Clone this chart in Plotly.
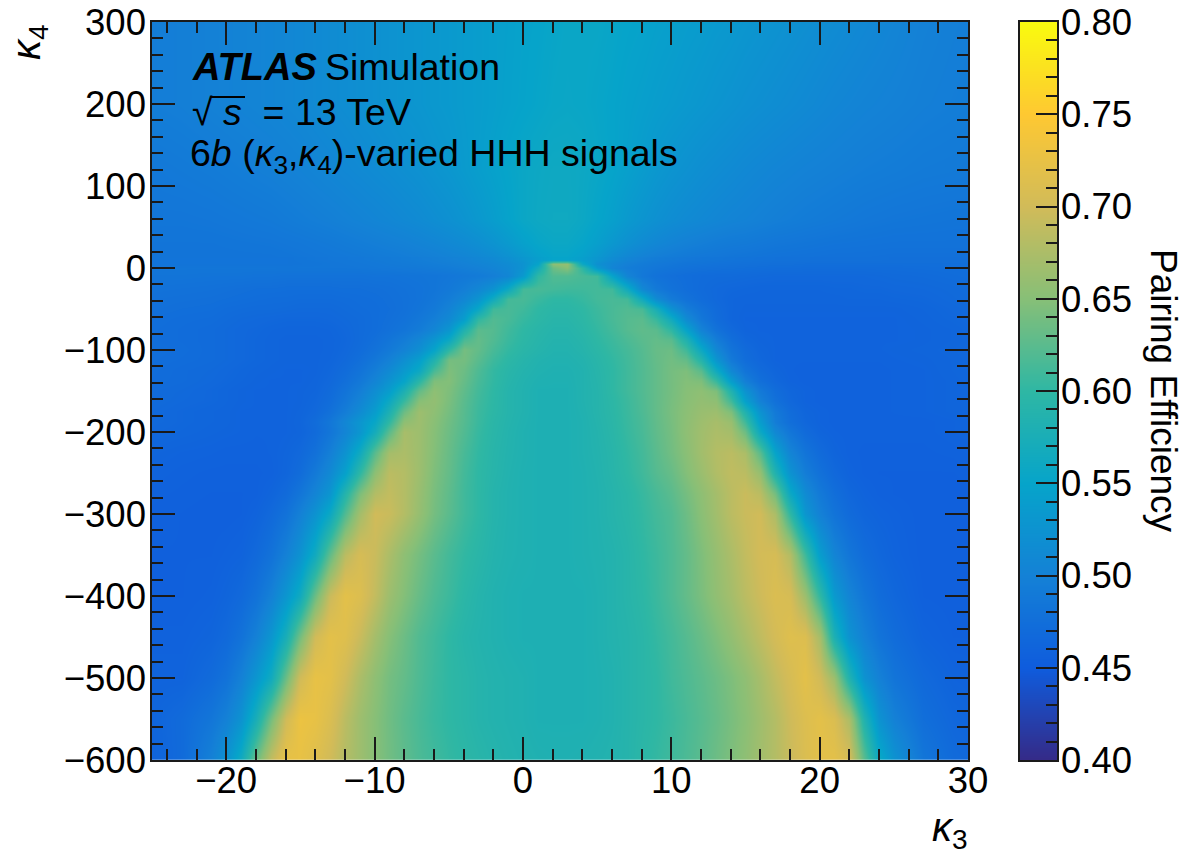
import plotly.graph_objects as go

FONT = "Liberation Sans"

# Upper region (no sharp structure): kappa3 / kappa4 sampling and efficiencies
sky_kappa3 = [-25,-23,-21,-19,-17,-15,-13,-11,-9,
              -8,-7,-6,-5,-4,-3,-2,-1,0,1,2,3,4,5,6,7,8,9,10,11,12,13,14,15,
              17,19,21,23,25,27,29,31]
sky_kappa4 = [300,200,120,60,30,10]
sky_efficiency = [
[.495,.497,.500,.503,.506,.510,.515,.520,.525, .528,.530,.533,.535,.538,.540,.543,.545,.548,.550,.553,.555,.555,.555,.553,.550,.548,.545,.543,.540,.538,.535,.533,.530, .525,.520,.515,.510,.505,.500,.497,.495],
[.495,.497,.500,.503,.506,.510,.515,.520,.525, .528,.530,.533,.535,.538,.540,.543,.546,.549,.552,.555,.556,.555,.553,.550,.546,.543,.540,.537,.534,.531,.528,.525,.522, .517,.512,.507,.503,.500,.497,.495,.493],
[.488,.490,.492,.495,.498,.502,.507,.512,.517, .520,.523,.527,.531,.536,.541,.546,.551,.556,.559,.561,.561,.559,.555,.550,.544,.538,.532,.527,.523,.519,.516,.513,.510, .505,.501,.498,.495,.493,.491,.490,.488],
[.485,.485,.486,.488,.490,.494,.498,.503,.508, .511,.514,.518,.522,.527,.533,.540,.548,.556,.560,.562,.562,.558,.551,.544,.535,.528,.522,.517,.513,.510,.507,.504,.502, .497,.493,.490,.487,.485,.484,.483,.483],
[.483,.483,.483,.484,.485,.487,.490,.494,.498, .500,.503,.506,.510,.514,.519,.526,.535,.545,.553,.557,.557,.552,.543,.532,.522,.514,.508,.503,.499,.496,.493,.491,.490, .486,.484,.482,.481,.480,.480,.480,.480],
[.482,.482,.482,.482,.482,.484,.486,.488,.491, .493,.495,.497,.500,.503,.507,.512,.520,.530,.542,.550,.550,.543,.530,.515,.505,.498,.493,.490,.487,.485,.484,.482,.481, .479,.478,.477,.477,.476,.476,.476,.476],
]

# Lower region (parabola): finer sampling
arch_kappa3 = [-25,-23,-21,
               -20,-19,-18,-17,-16,-15,-14,-13,-12,-11,
               -10,-9,-8,-7,-6,-5,-4,-3,-2,-1,
               0,1,2,3,4,5,6,7,8,9,
               10,11,12,13,14,15,16,17,18,19,
               20,21,22,23,24,25,
               27,29,31]
arch_kappa4 = [10,5,0,-10,-25,-37,-50,-62,-75,-87,-100,-112,-125,-137,-150,-162,-175,-187,-200,-225,-250,-275,-300,-350,-400,-450,-500,-550,-600]
arch_efficiency = [
[.482,.482,.482, .482,.482,.482,.482,.482,.484,.485,.486,.487,.488, .490,.491,.493,.495,.497,.500,.503,.507,.512,.520, .530,.542,.550,.550,.543,.530,.515,.505,.498,.493, .490,.487,.485,.484,.482,.481,.480,.479,.479,.478, .477,.477,.477,.477,.477,.476, .476,.476,.476],
[.482,.482,.482, .482,.482,.482,.482,.482,.483,.484,.485,.486,.487, .488,.490,.491,.493,.495,.497,.500,.504,.508,.515, .525,.550,.655,.660,.560,.522,.508,.499,.493,.489, .486,.483,.482,.480,.479,.478,.477,.476,.476,.475, .475,.475,.475,.475,.475,.475, .475,.475,.475],
[.485,.485,.485, .485,.485,.485,.485,.485,.485,.485,.485,.485,.486, .487,.488,.489,.490,.492,.494,.497,.500,.505,.512, .525,.570,.635,.650,.600,.535,.505,.495,.490,.486, .483,.480,.478,.477,.476,.475,.474,.473,.473,.472, .472,.472,.472,.472,.472,.472, .473,.474,.475],
[.483,.483,.482, .482,.482,.481,.481,.480,.480,.480,.480,.480,.480, .481,.481,.482,.483,.484,.486,.489,.492,.497,.507, .535,.600,.620,.620,.615,.610,.550,.505,.488,.480, .476,.473,.471,.470,.470,.469,.468,.467,.467,.467, .467,.467,.467,.467,.468,.469, .470,.472,.474],
[.480,.479,.478, .477,.476,.475,.475,.474,.474,.474,.474,.475,.475, .476,.477,.479,.481,.484,.489,.497,.508,.525,.560, .612,.615,.612,.610,.610,.612,.610,.565,.510,.490, .480,.474,.470,.467,.465,.464,.463,.463,.463,.463, .463,.464,.464,.465,.465,.466, .467,.469,.472],
[.478,.477,.476, .475,.474,.473,.472,.472,.471,.471,.471,.472,.473, .474,.476,.478,.481,.486,.495,.508,.527,.565,.612, .615,.607,.600,.600,.605,.612,.615,.612,.565,.515, .492,.480,.472,.467,.463,.462,.462,.462,.462,.462, .462,.462,.463,.463,.463,.464, .465,.468,.471],
[.477,.475,.474, .472,.471,.470,.470,.469,.468,.468,.468,.470,.472, .473,.475,.478,.483,.490,.503,.525,.555,.610,.615, .610,.600,.596,.596,.600,.608,.615,.620,.615,.575, .525,.495,.480,.470,.463,.461,.461,.461,.461,.461, .461,.461,.461,.461,.461,.461, .463,.466,.470],
[.475,.473,.472, .470,.468,.467,.466,.465,.465,.465,.466,.468,.470, .473,.476,.480,.487,.497,.512,.540,.600,.620,.615, .605,.598,.593,.593,.598,.606,.615,.622,.625,.605, .565,.515,.487,.472,.463,.460,.460,.460,.460,.460, .460,.460,.460,.460,.460,.460, .462,.465,.468],
[.474,.472,.470, .468,.466,.465,.463,.462,.462,.462,.463,.466,.470, .473,.478,.484,.493,.507,.530,.585,.625,.622,.610, .600,.594,.590,.590,.595,.603,.612,.622,.628,.625, .600,.550,.503,.480,.468,.461,.460,.460,.460,.460, .460,.460,.460,.460,.460,.460, .461,.463,.467],
[.474,.472,.470, .468,.466,.464,.462,.461,.461,.461,.462,.465,.470, .476,.484,.494,.508,.530,.560,.615,.630,.620,.607, .598,.592,.588,.588,.592,.600,.608,.617,.625,.630, .625,.585,.530,.495,.475,.465,.461,.460,.460,.460, .460,.460,.460,.460,.460,.460, .461,.463,.467],
[.475,.473,.470, .468,.466,.464,.462,.461,.461,.461,.462,.466,.472, .480,.490,.503,.520,.550,.600,.640,.630,.615,.603, .595,.590,.586,.586,.590,.597,.605,.613,.622,.632, .635,.610,.560,.510,.482,.470,.463,.460,.460,.460, .460,.460,.460,.460,.460,.461, .462,.464,.468],
[.474,.472,.470, .468,.466,.464,.462,.461,.461,.461,.463,.468,.476, .487,.500,.520,.542,.585,.640,.640,.625,.609,.598, .591,.586,.584,.584,.587,.594,.602,.611,.621,.631, .638,.630,.590,.530,.490,.473,.465,.460,.459,.459, .459,.459,.459,.459,.459,.460, .461,.463,.467],
[.473,.470,.468, .466,.464,.462,.461,.460,.460,.461,.465,.472,.482, .496,.513,.535,.560,.615,.645,.635,.618,.603,.594, .588,.584,.582,.582,.585,.592,.600,.610,.620,.630, .640,.645,.625,.565,.510,.483,.470,.463,.459,.458, .458,.458,.458,.458,.458,.459, .460,.463,.466],
[.472,.470,.467, .465,.463,.461,.460,.460,.460,.462,.467,.476,.488, .505,.525,.550,.595,.645,.648,.632,.615,.602,.592, .586,.582,.581,.581,.585,.591,.600,.610,.620,.630, .640,.648,.645,.605,.540,.497,.476,.466,.460,.458, .458,.458,.458,.458,.458,.459, .460,.462,.466],
[.470,.468,.465, .463,.461,.460,.460,.460,.461,.463,.470,.482,.497, .518,.540,.580,.630,.655,.645,.628,.612,.600,.590, .585,.580,.580,.580,.585,.590,.600,.610,.620,.630, .640,.650,.655,.645,.585,.525,.490,.473,.464,.460, .458,.458,.458,.458,.458,.459, .460,.462,.465],
[.470,.467,.465, .463,.461,.460,.460,.460,.461,.465,.473,.487,.505, .528,.560,.605,.650,.658,.643,.625,.610,.599,.590, .585,.580,.580,.580,.585,.590,.598,.608,.619,.630, .641,.651,.658,.655,.610,.545,.500,.478,.466,.460, .458,.458,.458,.458,.458,.459, .460,.462,.466],
[.468,.465,.463, .462,.460,.460,.460,.460,.462,.467,.478,.495,.515, .540,.580,.635,.665,.655,.640,.623,.608,.598,.590, .585,.580,.580,.580,.584,.590,.597,.607,.618,.630, .642,.653,.662,.665,.645,.585,.525,.490,.472,.463, .460,.458,.458,.458,.458,.459, .460,.462,.465],
[.468,.465,.463, .462,.460,.460,.460,.460,.463,.472,.487,.508,.530, .555,.600,.655,.665,.652,.637,.622,.607,.596,.589, .584,.580,.580,.580,.583,.589,.596,.606,.616,.629, .641,.654,.665,.672,.662,.610,.540,.495,.475,.465, .460,.458,.458,.458,.458,.458, .458,.460,.463],
[.466,.464,.462, .461,.460,.459,.459,.460,.462,.470,.485,.505,.530, .570,.625,.672,.665,.650,.635,.620,.605,.595,.588, .583,.580,.580,.580,.583,.588,.595,.605,.615,.628, .640,.655,.667,.675,.670,.635,.560,.510,.485,.470, .462,.459,.458,.458,.458,.458, .458,.460,.463],
[.462,.460,.459, .458,.458,.458,.459,.462,.467,.478,.498,.525,.565, .625,.670,.675,.665,.648,.632,.615,.602,.593,.587, .583,.580,.580,.580,.583,.587,.593,.602,.612,.625, .638,.652,.668,.680,.685,.675,.625,.550,.505,.483, .470,.462,.458,.457,.457,.457, .457,.458,.460],
[.460,.458,.457, .457,.457,.457,.458,.463,.472,.490,.512,.545,.600, .655,.685,.680,.665,.645,.630,.612,.600,.592,.586, .582,.580,.580,.580,.582,.586,.592,.600,.610,.622, .632,.648,.663,.678,.688,.685,.660,.585,.525,.495, .478,.467,.460,.457,.456,.456, .456,.456,.458],
[.458,.457,.456, .456,.456,.457,.462,.470,.485,.505,.530,.590,.645, .680,.690,.680,.662,.642,.627,.610,.600,.590,.585, .582,.580,.580,.580,.582,.585,.590,.596,.605,.615, .625,.640,.655,.670,.685,.695,.685,.640,.560,.515, .490,.475,.465,.460,.457,.456, .455,.455,.456],
[.457,.456,.455, .455,.456,.460,.468,.480,.500,.525,.560,.620,.670, .700,.695,.680,.660,.640,.625,.610,.600,.590,.585, .582,.580,.580,.580,.582,.585,.590,.595,.603,.612, .620,.635,.652,.668,.685,.695,.700,.675,.600,.530, .500,.482,.470,.463,.460,.458, .455,.455,.456],
[.456,.456,.456, .458,.460,.468,.480,.500,.525,.565,.630,.685,.705, .695,.675,.655,.640,.625,.612,.602,.595,.588,.584, .582,.580,.580,.580,.582,.584,.587,.592,.600,.608, .618,.630,.645,.660,.675,.690,.702,.705,.680,.610, .540,.505,.485,.472,.465,.460, .455,.455,.455],
[.456,.456,.458, .462,.468,.480,.500,.530,.565,.635,.695,.720,.712, .690,.665,.648,.632,.618,.608,.597,.590,.585,.582, .580,.580,.580,.580,.580,.583,.587,.592,.598,.607, .618,.630,.643,.657,.670,.685,.698,.710,.705,.665, .600,.535,.505,.485,.472,.465, .456,.455,.455],
[.458,.458,.462, .468,.480,.500,.530,.575,.640,.700,.720,.715,.695, .670,.650,.635,.620,.610,.600,.592,.588,.585,.582, .580,.580,.580,.580,.580,.583,.587,.590,.595,.603, .612,.622,.633,.645,.658,.672,.688,.703,.715,.712, .670,.580,.525,.500,.482,.472, .460,.456,.456],
[.460,.460,.470, .480,.500,.530,.565,.635,.700,.725,.720,.700,.675, .655,.640,.630,.618,.608,.600,.595,.590,.587,.585, .583,.580,.580,.580,.580,.582,.585,.590,.595,.600, .610,.618,.626,.635,.645,.656,.672,.690,.705,.720, .700,.665,.585,.525,.500,.483, .468,.460,.458],
[.462,.470,.485, .500,.525,.575,.640,.700,.730,.725,.710,.685,.665, .650,.637,.625,.615,.606,.600,.595,.590,.587,.585, .583,.580,.580,.580,.580,.582,.585,.590,.595,.600, .607,.615,.623,.632,.642,.652,.666,.680,.698,.712, .720,.710,.675,.585,.525,.500, .475,.465,.460],
[.460,.470,.500, .525,.565,.635,.690,.725,.725,.715,.700,.680,.665, .650,.638,.627,.617,.610,.603,.598,.594,.590,.587, .585,.583,.582,.582,.583,.585,.587,.590,.597,.603, .610,.617,.625,.635,.645,.655,.668,.680,.695,.710, .720,.720,.705,.625,.560,.525, .485,.470,.465],
]
assert all(len(r) == len(sky_kappa3) for r in sky_efficiency)
assert all(len(r) == len(arch_kappa3) for r in arch_efficiency)
assert len(arch_efficiency) == len(arch_kappa4) and len(sky_efficiency) == len(sky_kappa4)

colorbar_levels = [.40,.42,.44,.46,.48,.50,.52,.54,.56,.58,.60,.62,.64,.66,.68,.70,.72,.74,.76,.78,.80]
bird_scale = [
    [0.0,"rgb(53,42,135)"],[0.125,"rgb(15,92,221)"],[0.25,"rgb(20,129,214)"],
    [0.375,"rgb(6,164,202)"],[0.5,"rgb(46,183,164)"],[0.625,"rgb(135,191,119)"],
    [0.75,"rgb(209,187,89)"],[0.875,"rgb(254,200,50)"],[1.0,"rgb(249,251,14)"],
]

PLOT_W = 816
PAPER_W = 905
PAPER_H = 738
INK = "#1a1a1a"

def px(v):
    return (v - 152) / PAPER_W

def py(v):
    return (760 - v) / PAPER_H

fig = go.Figure()
hover = "κ3=%{x}<br>κ4=%{y}<br>%{z:.2f}<extra></extra>"
fig.add_trace(go.Heatmap(
    x=sky_kappa3, y=sky_kappa4[::-1], z=sky_efficiency[::-1],
    zmin=0.4, zmax=0.8, colorscale=bird_scale, zsmooth="best", showscale=False, hovertemplate=hover,
))
fig.add_trace(go.Heatmap(
    x=arch_kappa3, y=arch_kappa4[::-1], z=arch_efficiency[::-1],
    zmin=0.4, zmax=0.8, colorscale=bird_scale, zsmooth="best", showscale=False, hovertemplate=hover,
))
fig.add_trace(go.Heatmap(
    x=[0, 1], y=colorbar_levels, z=[[v, v] for v in colorbar_levels],
    zmin=0.4, zmax=0.8, colorscale=bird_scale, zsmooth="best", showscale=False,
    xaxis="x2", yaxis="y2", hoverinfo="skip",
))

tick_font = dict(family=FONT, size=36.5, color="black")
axis_common = dict(
    showgrid=False, zeroline=False, showline=True, linecolor=INK, linewidth=1.5,
    ticks="inside", tickcolor=INK, tickwidth=1.5, tickfont=tick_font,
)
fig.update_layout(
    width=1186, height=857, autosize=False,
    margin=dict(l=152, r=129, t=22, b=97, pad=0, autoexpand=False),
    paper_bgcolor="white", plot_bgcolor="white", showlegend=False,
    font=dict(family=FONT, color="black"),
    xaxis=dict(domain=[0, PLOT_W / PAPER_W], range=[-25, 30], tick0=0, dtick=10,
               ticklen=23, mirror="allticks", anchor="y", ticklabelstandoff=-13,
               minor=dict(dtick=2, tick0=0, ticklen=11, ticks="inside", tickcolor=INK, tickwidth=1.5),
               **axis_common),
    yaxis=dict(domain=[0, 1], range=[-600, 300], tick0=0, dtick=100,
               ticklen=23, mirror="allticks", anchor="x", ticklabelstandoff=-3,
               minor=dict(dtick=20, tick0=0, ticklen=11, ticks="inside", tickcolor=INK, tickwidth=1.5),
               **axis_common),
    xaxis2=dict(domain=[px(1020), 1], range=[0, 1], showticklabels=False, ticks="",
                showgrid=False, zeroline=False, showline=True, linecolor=INK, linewidth=1.5,
                mirror=True, anchor="y2", fixedrange=True),
    yaxis2=dict(domain=[0, 1], range=[0.4, 0.8], side="right", tick0=0.4, dtick=0.05,
                tickformat=".2f", ticklen=21, mirror=True, anchor="x2", fixedrange=True,
                ticklabelstandoff=-5,
                minor=dict(dtick=0.01, tick0=0.4, ticklen=11, ticks="inside", tickcolor=INK, tickwidth=1.5),
                **axis_common),
)

def label(text, x, y, size=37.5, xanchor="left", yanchor="middle", angle=0):
    fig.add_annotation(text=text, x=px(x), y=py(y), xref="paper", yref="paper",
                       showarrow=False, xanchor=xanchor, yanchor=yanchor, textangle=angle,
                       font=dict(family=FONT, size=size, color="black"))

label("<b><i>ATLAS</i></b>", 190, 67, size=38)
label("Simulation", 323, 67)
label("√ <i>s</i>  = 13 TeV", 190, 112)
fig.add_shape(type="line", xref="paper", yref="paper", x0=px(211), x1=px(245), y0=py(97), y1=py(97),
              line=dict(color="black", width=2))
label("6<i>b</i> (<i>κ</i><sub>3</sub>,<i>κ</i><sub>4</sub>)-varied HHH signals", 188, 156)
label("<i>κ</i><sub>3</sub>", 970, 830, size=40, xanchor="right")
label("<i>κ</i><sub>4</sub>", 29, 42, size=40, angle=-90, xanchor="center")
label("Pairing Efficiency", 1164, 391, size=37, xanchor="center", angle=90)

fig.write_html("out.html", config={"displayModeBar": False}, post_script="document.body.style.margin='0';")
